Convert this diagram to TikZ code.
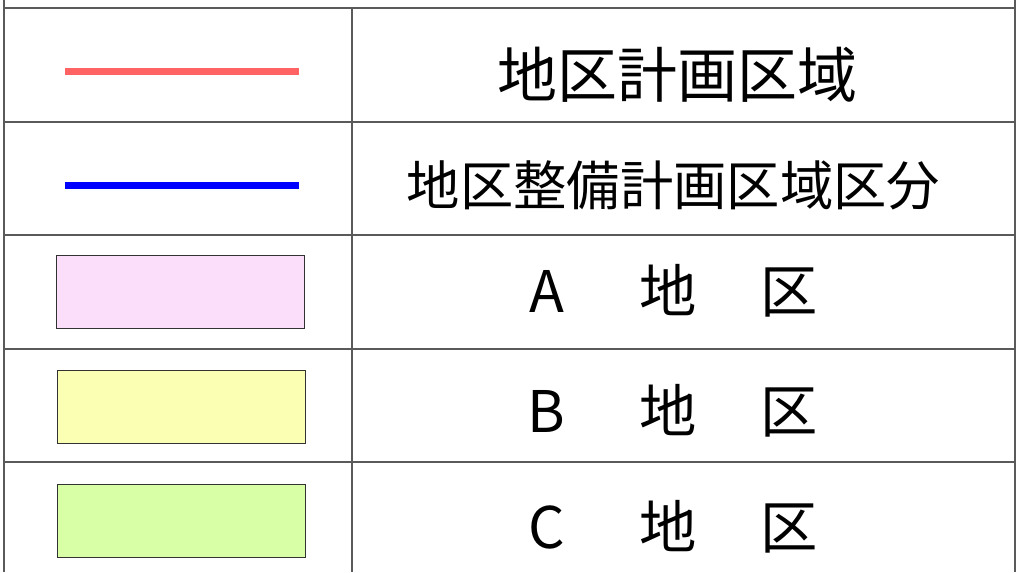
\documentclass[tikz,border=0pt]{standalone}
\usepackage{fontspec}
\setmainfont{Noto Sans CJK JP}

\definecolor{areared}{RGB}{255,99,99}
\definecolor{zonepink}{RGB}{250,222,250}
\definecolor{zoneyellow}{RGB}{250,255,180}
\definecolor{zonegreen}{RGB}{216,255,166}
\definecolor{rulegrey}{RGB}{90,90,90}
\definecolor{edgegrey}{RGB}{50,50,50}

\tikzset{every picture/.style={line width=0.75pt}}
\tikzset{
	rule/.style={draw=rulegrey, line width=1.1pt},
	sampleline/.style={line width=5.25pt},
	swatch/.style={draw=edgegrey, line width=0.75pt, minimum width=186pt, minimum height=54.75pt, inner sep=0pt, outer sep=0pt},
	bigtext/.style={inner sep=0pt, font=\fontsize{45}{54}\selectfont},
	midtext/.style={inner sep=0pt, font=\fontsize{40}{48}\selectfont},
	zonetext/.style={inner sep=0pt, font=\fontsize{43}{52}\selectfont}
}
\newcommand{\zonename}[1]{\makebox[91pt]{#1}\makebox[91pt]{地}\makebox[91pt]{区}}

\begin{document}
\begin{tikzpicture}[x=0.75pt,y=0.75pt,yscale=-1,xscale=1]
	\useasboundingbox (0,0) rectangle (1020,572);

	%Table frame
	\draw [rule] (4,0) -- (4,572) ;
	\draw [rule] (1015,0) -- (1015,572) ;
	\draw [rule] (352,8) -- (352,572) ;
	\draw [rule] (4,8) -- (1015,8) ;
	\draw [rule] (4,122) -- (1015,122) ;
	\draw [rule] (4,235) -- (1015,235) ;
	\draw [rule] (4,349) -- (1015,349) ;
	\draw [rule] (4,462) -- (1015,462) ;

	%Straight Lines (legend samples)
	\coordinate (redL) at (65,71) ;
	\coordinate (redR) at (299,71) ;
	\draw [sampleline, areared] (redL) -- (redR) ;
	\coordinate (blueL) at (65,185) ;
	\coordinate (blueR) at (299,185) ;
	\draw [sampleline, blue] (blueL) -- (blueR) ;

	%Shape: Rectangles (zone swatches)
	\node [swatch, fill=zonepink] (swatchA) at (180,291.5) {};
	\node [swatch, fill=zoneyellow] (swatchB) at (181.5,406.5) {};
	\node [swatch, fill=zonegreen] (swatchC) at (181.5,520.5) {};

	% Text Node
	\node [bigtext] (planarea) at (677,75) {地区計画区域};
	% Text Node
	\node [midtext] (divarea) at (673.5,185) {地区整備計画区域区分};
	% Text Node
	\node [zonetext] (zoneA) at (668,291) {\zonename{A}};
	% Text Node
	\node [zonetext] (zoneB) at (668,411) {\zonename{B}};
	% Text Node
	\node [zonetext] (zoneC) at (668,527) {\zonename{C}};

\end{tikzpicture}
\end{document}
